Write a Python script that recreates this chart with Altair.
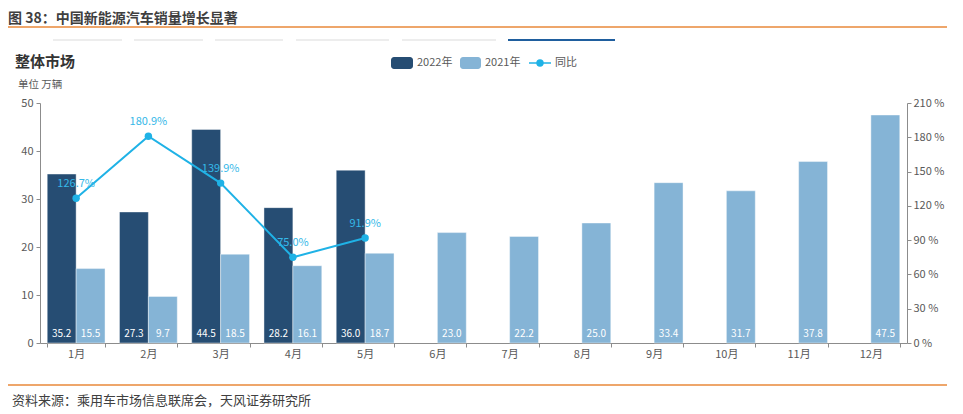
import altair as alt
import pandas as pd

FONT = "Noto Sans CJK SC"

months = ["1月", "2月", "3月", "4月", "5月", "6月", "7月", "8月", "9月", "10月", "11月", "12月"]
years = ["2022年", "2021年"]
sales_2022 = [35.2, 27.3, 44.5, 28.2, 36.0]
sales_2021 = [15.5, 9.7, 18.5, 16.1, 18.7, 23.0, 22.2, 25.0, 33.4, 31.7, 37.8, 47.5]
yoy = [126.7, 180.9, 139.9, 75.0, 91.9]
left_ticks = [0, 10, 20, 30, 40, 50]
right_ticks = [0, 30, 60, 90, 120, 150, 180, 210]

C2022 = "#264D73"
C2021 = "#85B4D6"
CLINE = "#1FB2E6"
ORANGE = "#E8883A"

rows = []
for m, v in zip(months, sales_2022):
    rows.append({"month": m, "year": "2022年", "value": v})
for m, v in zip(months, sales_2021):
    rows.append({"month": m, "year": "2021年", "value": v})
bars_df = pd.DataFrame(rows)
line_df = pd.DataFrame({"month": months[:len(yoy)], "yoy": yoy})

X = alt.X("month:N", sort=months,
          scale=alt.Scale(domain=months, paddingInner=0.2, paddingOuter=0.1),
          axis=alt.Axis(title=None, labelAngle=0, tickBand="extent", tickSize=4,
                        labelPadding=1, labelFontSize=11))
XOFF = alt.XOffset("year:N", sort=years,
                   scale=alt.Scale(domain=years, paddingInner=0, paddingOuter=0))
YL_axis = alt.Axis(title=None, values=left_ticks, grid=False, tickSize=4,
                   labelPadding=3, orient="left")
YL_scale = alt.Scale(domain=[0, 50], nice=False)

bars = alt.Chart(bars_df).mark_bar(stroke="white", strokeWidth=0.6, strokeOpacity=0.7).encode(
    x=X, xOffset=XOFF,
    y=alt.Y("value:Q", scale=YL_scale, axis=YL_axis),
    color=alt.Color("year:N", scale=alt.Scale(domain=years, range=[C2022, C2021]), legend=None),
)
bar_labels = alt.Chart(bars_df).transform_calculate(
    base="0", label="format(datum.value, '.1f')"
).mark_text(color="white", fontSize=10, font=FONT, dy=-9, baseline="middle").encode(
    x=X, xOffset=XOFF,
    y=alt.Y("base:Q", scale=YL_scale, axis=YL_axis),
    text="label:N",
)
left = alt.layer(bars, bar_labels)

YR_scale = alt.Scale(domain=[0, 210], nice=False)
YR_axis = alt.Axis(title=None, values=right_ticks, grid=False, tickSize=4, labelPadding=2,
                   orient="right", labelExpr="datum.value + ' %'")
line = alt.Chart(line_df).mark_line(
    color=CLINE, strokeWidth=2,
    point=alt.OverlayMarkDef(color=CLINE, filled=True, size=55, opacity=1),
).encode(x=X, y=alt.Y("yoy:Q", scale=YR_scale, axis=YR_axis))
line_labels = alt.Chart(line_df).transform_calculate(
    label="format(datum.yoy, '.1f') + '%'"
).mark_text(color="#35B8E8", fontSize=11, font=FONT, dy=-14).encode(
    x=X, y=alt.Y("yoy:Q", scale=YR_scale, axis=YR_axis), text="label:N"
)
right = alt.layer(line, line_labels)

one = alt.Data(values=[{}])


def txt(s, x, y, size, color, weight="normal", align="left"):
    return alt.Chart(one).mark_text(
        text=s, font=FONT, fontSize=size, color=color, fontWeight=weight,
        align=align, baseline="middle"
    ).encode(x=alt.value(x), y=alt.value(y))


def rule(x1, x2, y, color, w):
    return alt.Chart(one).mark_rule(color=color, strokeWidth=w).encode(
        x=alt.value(x1), x2=alt.value(x2), y=alt.value(y))


deco = [
    txt("图 38：中国新能源汽车销量增长显著", -32, -84, 14, "#3F3F3F", "bold"),
    rule(-40, 925, -76, ORANGE, 1.5),
    rule(13, 82, -63, "#EDEDED", 2),
    rule(94, 163, -63, "#EDEDED", 2),
    rule(175, 243, -63, "#EDEDED", 2),
    rule(256, 349, -63, "#EDEDED", 2),
    rule(362, 456, -63, "#EDEDED", 2),
    rule(468, 575, -63, "#1F5E9E", 2),
    txt("整体市场", -25, -41, 15, "#333333", "bold"),
    txt("单位 万辆", -22, -18, 10.5, "#595959"),
    # legend
    alt.Chart(one).mark_rect(color=C2022, cornerRadius=3).encode(
        x=alt.value(351), x2=alt.value(373), y=alt.value(-46), y2=alt.value(-34)),
    txt("2022年", 377, -40, 11, "#595959"),
    alt.Chart(one).mark_rect(color=C2021, cornerRadius=3).encode(
        x=alt.value(420), x2=alt.value(441), y=alt.value(-46), y2=alt.value(-34)),
    txt("2021年", 445, -40, 11, "#595959"),
    rule(489, 511, -40, CLINE, 1.5),
    alt.Chart(one).mark_point(color=CLINE, filled=True, size=55, opacity=1).encode(
        x=alt.value(500), y=alt.value(-40)),
    txt("同比", 515, -40, 11, "#595959"),
    # footer
    rule(-40, 925, 282, ORANGE, 1.5),
    txt("资料来源：乘用车市场信息联席会，天风证券研究所", -28, 298, 13, "#404040"),
]

main = alt.layer(left, right).resolve_scale(y="independent")
chart = alt.layer(main, *deco).properties(
    width=867, height=240,
    autosize=alt.AutoSizeParams(type="none"),
    padding={"left": 32, "top": 95, "right": 40, "bottom": 75},
).configure_view(stroke=None).configure_axis(
    labelFont=FONT, labelColor="#595959", labelFontSize=11,
    domainColor="#8C8C8C", tickColor="#8C8C8C",
)

chart.save("out.html", embed_options={"renderer": "svg", "actions": False})
